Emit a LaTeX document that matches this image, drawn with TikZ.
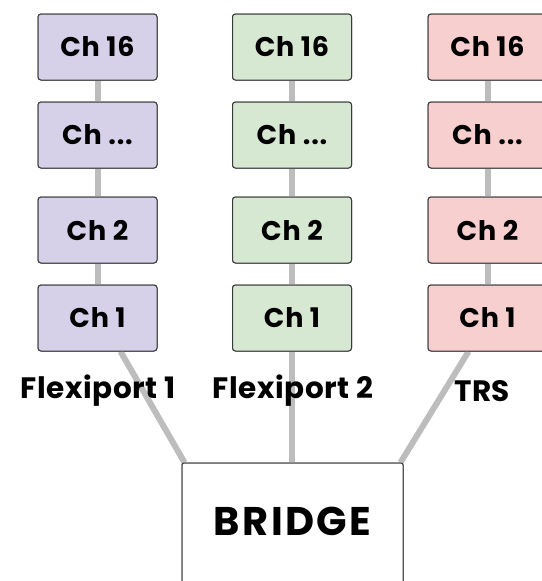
\documentclass[tikz,border=0pt]{standalone}
\usepackage{fontspec}
\setmainfont{Poppins}
\usetikzlibrary{calc}
\definecolor{cpurple}{HTML}{D6D1E8}
\definecolor{cgreen}{HTML}{D6E8D2}
\definecolor{cred}{HTML}{F8CFCF}
\definecolor{cline}{HTML}{BDBDBD}
\definecolor{cborder}{HTML}{3A3A3A}
\tikzset{
  chbox/.style={draw=cborder, line width=1pt, rounded corners=3pt, minimum width=119pt, minimum height=66pt, inner sep=0pt, font=\fontsize{27}{27}\selectfont\bfseries\addfontfeature{LetterSpace=3}},
  conn/.style={draw=cline, line width=6pt},
  lbl/.style={font=\fontsize{29.5}{29.5}\selectfont\bfseries\addfontfeature{LetterSpace=2}, inner sep=0pt},
  bridgebox/.style={draw=cborder, line width=1pt, rounded corners=2pt, fill=white, minimum width=221pt, minimum height=160pt, inner sep=0pt},
  btxt/.style={font=\fontsize{40}{40}\selectfont\bfseries\addfontfeature{LetterSpace=6}, inner sep=0pt}
}
\begin{document}
\begin{tikzpicture}[x=1pt,y=-1pt]
\useasboundingbox (0,0) rectangle (541,581);
% nodes (named) for connector anchors
\foreach \n/\cx/\col in {a/97.5/cpurple, b/292/cgreen, c/487.5/cred}{
  \node[chbox, fill=\col] (\n16) at (\cx,47) {Ch 16};
  \node[chbox, fill=\col] (\n d) at (\cx,135) {Ch ...};
  \node[chbox, fill=\col] (\n2) at (\cx,230) {Ch 2};
  \node[chbox, fill=\col] (\n1) at (\cx,318) {Ch 1};
}
\node[bridgebox] (bridge) at (292.5,543) {};
% connectors
\foreach \n in {a,b,c}{
  \draw[conn] (\n16.south) -- (\n d.north);
  \draw[conn] (\n d.south) -- (\n2.north);
  \draw[conn] (\n2.south) -- (\n1.north);
}
\draw[conn] ([xshift=23pt]a1.south) -- ([xshift=3pt]bridge.north west);
\draw[conn] (b1.south) -- (b1.south |- bridge.north);
\draw[conn] ([xshift=-19pt]c1.south) -- ([xshift=-3pt]bridge.north east);
% boxes again on top of connector ends
\node[bridgebox] (bridgetop) at (292.5,543) {};
\node[btxt] (btext) at (292.5,521) {BRIDGE};
\foreach \n/\cx/\col in {a/97.5/cpurple, b/292/cgreen, c/487.5/cred}{
  \node[chbox, fill=\col] (\n16t) at (\cx,47) {Ch 16};
  \node[chbox, fill=\col] (\n dt) at (\cx,135) {Ch ...};
  \node[chbox, fill=\col] (\n2t) at (\cx,230) {Ch 2};
  \node[chbox, fill=\col] (\n1t) at (\cx,318) {Ch 1};
}
\node[lbl] (l1) at (98,391) {Flexiport 1};
\node[lbl] (l2) at (293,391) {Flexiport 2};
\node[lbl] (l3) at (482,391) {TRS};
\end{tikzpicture}
\end{document}
